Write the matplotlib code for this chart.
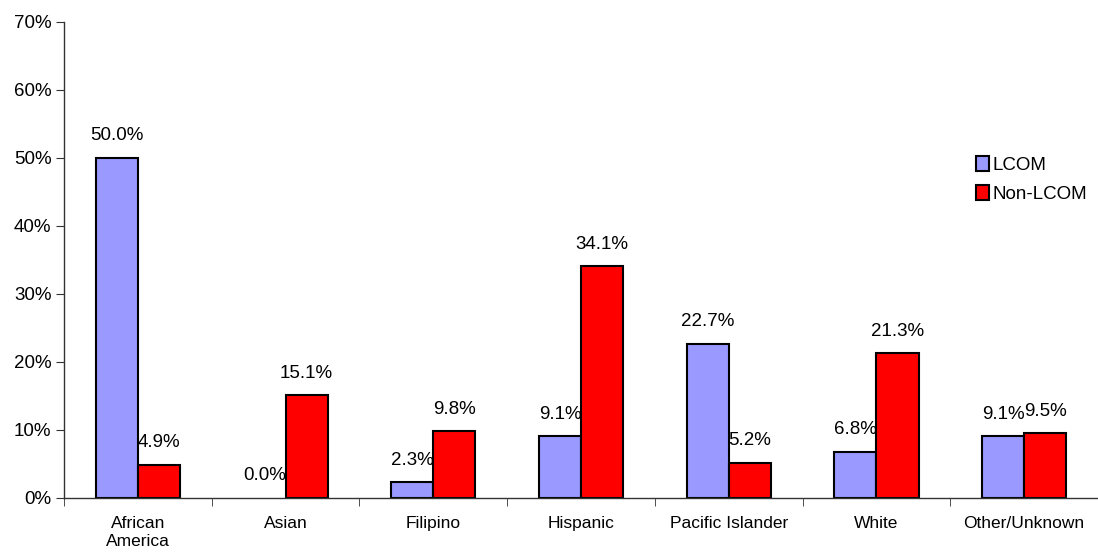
import matplotlib
matplotlib.use("Agg")
import matplotlib.pyplot as plt
import numpy as np

categories = ["African\nAmerica", "Asian", "Filipino", "Hispanic",
              "Pacific Islander", "White", "Other/Unknown"]
lcom = [50.0, 0.0, 2.3, 9.1, 22.7, 6.8, 9.1]
non_lcom = [4.9, 15.1, 9.8, 34.1, 5.2, 21.3, 9.5]
yticks = [0, 10, 20, 30, 40, 50, 60, 70]

plt.rcParams["font.family"] = ["Liberation Sans", "DejaVu Sans"]

fig = plt.figure(figsize=(10.98, 5.59), dpi=100)
ax = fig.add_axes([64 / 1098, 61 / 559, 1034 / 1098, 476 / 559])

x = np.arange(len(categories))
w = 0.285
b1 = ax.bar(x - w / 2, lcom, w, color="#9999ff", edgecolor="black", linewidth=1.5, label="LCOM")
b2 = ax.bar(x + w / 2, non_lcom, w, color="#ff0000", edgecolor="black", linewidth=1.5, label="Non-LCOM")

# a zero-height bar leaves no outline along the axis
for rect, v in zip(b1, lcom):
    if v == 0:
        rect.set_linewidth(0)

for rect, v in list(zip(b1, lcom)) + list(zip(b2, non_lcom)):
    ax.text(rect.get_x() + rect.get_width() / 2, v + 2.0, f"{v:.1f}%",
            ha="center", va="bottom", fontsize=13.5)

ax.set_xlim(-0.5, len(categories) - 0.5)
ax.set_ylim(0, 70)
ax.set_yticks(yticks)
ax.set_yticklabels([f"{t}%" for t in yticks], fontsize=13.5)
ax.set_xticks(x)
ax.set_xticklabels(categories, fontsize=12.5, linespacing=1.25)
ax.tick_params(axis="x", length=0, pad=13)
ax.set_xticks(np.arange(len(categories) + 1) - 0.5, minor=True)
ax.tick_params(axis="x", which="minor", length=6, color="#333333", direction="out")
ax.tick_params(axis="y", length=6, color="#333333", direction="out", pad=3)

for s in ("top", "right"):
    ax.spines[s].set_visible(False)
for s in ("left", "bottom"):
    ax.spines[s].set_color("#333333")
    ax.spines[s].set_linewidth(1.0)

ax.legend(loc="upper left", bbox_to_anchor=(0.875, 0.735), frameon=False,
          fontsize=13.5, handlelength=0.7, handleheight=0.85, handletextpad=0.15,
          labelspacing=0.6, borderaxespad=0)

fig.savefig("out.png", dpi=100)
